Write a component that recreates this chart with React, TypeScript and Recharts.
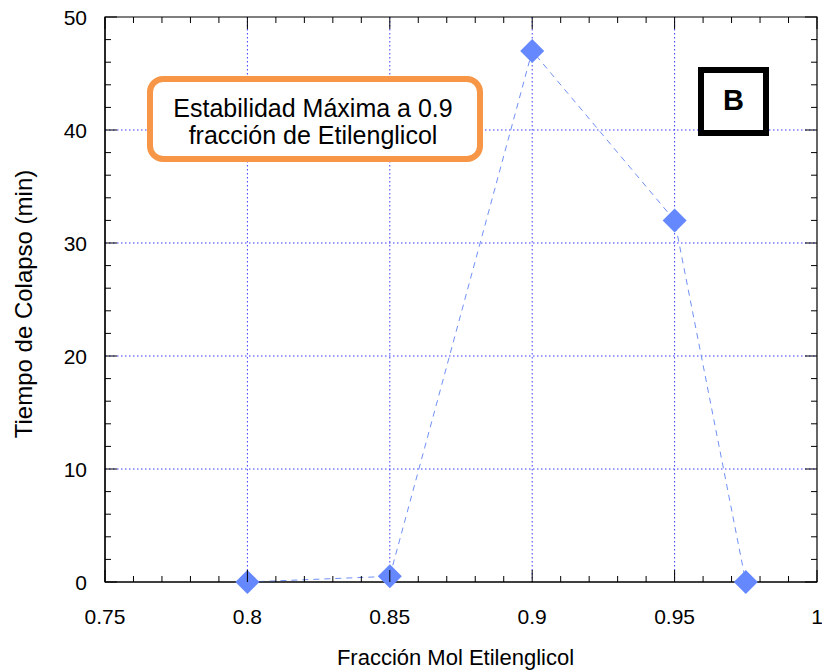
import React from 'react';
import { LineChart, Line, XAxis, YAxis, CartesianGrid, ReferenceArea } from 'recharts';

const fraccion = [0.8, 0.85, 0.9, 0.95, 0.975];
const tiempo = [0, 0.5, 47, 32, 0];

const xTicks = [0.75, 0.8, 0.85, 0.9, 0.95, 1];
const yTicks = [0, 10, 20, 30, 40, 50];
const xMinor = [0.75, 0.76, 0.77, 0.78, 0.79, 0.8, 0.81, 0.82, 0.83, 0.84, 0.85, 0.86, 0.87, 0.88, 0.89, 0.9, 0.91, 0.92, 0.93, 0.94, 0.95, 0.96, 0.97, 0.98, 0.99, 1];
const yMinor = [0, 2, 4, 6, 8, 10, 12, 14, 16, 18, 20, 22, 24, 26, 28, 30, 32, 34, 36, 38, 40, 42, 44, 46, 48, 50];
const gridX = [0.8, 0.85, 0.9, 0.95];
const gridY = [10, 20, 30, 40];

const xTitle = 'Fracción Mol Etilenglicol';
const yTitle = 'Tiempo de Colapso (min)';
const noteLines = ['Estabilidad Máxima a 0.9', 'fracción de Etilenglicol'];
const panelLabel = 'B';

const data = fraccion.map((x, i) => ({ x, y: tiempo[i] }));

const FONT = '"Liberation Sans", Arial, sans-serif';

// layout
const W = 822;
const H = 672;
const M = { top: 17, right: 5, left: 45, bottom: 60 };
const Y_W = 60;
const X_H = 30;
const PLOT_TOP = M.top;
const PLOT_BOTTOM = H - M.bottom - X_H;
const PLOT_LEFT = M.left + Y_W;
const PLOT_RIGHT = W - M.right;
const X_MARGIN = 27;
const Y_MARGIN = 18;

const isMajor = (list: number[], v: number) => list.some((t) => Math.abs(t - v) < 1e-9);

const XTick = (props: any) => {
  const { x, y, payload } = props;
  const v = payload.value;
  const major = isMajor(xTicks, v);
  const len = major ? 12 : 6;
  return (
    <g>
      <line x1={x} x2={x} y1={PLOT_BOTTOM} y2={PLOT_BOTTOM - len} stroke="#000" strokeWidth={1} />
      <line x1={x} x2={x} y1={PLOT_TOP} y2={PLOT_TOP + len} stroke="#000" strokeWidth={1} />
      {major && (
        <text x={x} y={y} dy={15} textAnchor="middle" fontSize={21} fontFamily={FONT} fill="#000">
          {String(v)}
        </text>
      )}
    </g>
  );
};

const YTick = (props: any) => {
  const { x, y, payload } = props;
  const v = payload.value;
  const major = isMajor(yTicks, v);
  const len = major ? 12 : 6;
  return (
    <g>
      <line x1={PLOT_LEFT} x2={PLOT_LEFT + len} y1={y} y2={y} stroke="#000" strokeWidth={1} />
      <line x1={PLOT_RIGHT} x2={PLOT_RIGHT - len} y1={y} y2={y} stroke="#000" strokeWidth={1} />
      {major && (
        <text x={x} y={y} dy={7.5} textAnchor="end" fontSize={21} fontFamily={FONT} fill="#000">
          {String(v)}
        </text>
      )}
    </g>
  );
};

const Diamond = (props: any) => {
  const { cx, cy } = props;
  if (cx == null || cy == null) return null;
  const r = 12;
  return (
    <polygon
      points={`${cx},${cy - r} ${cx + r},${cy} ${cx},${cy + r} ${cx - r},${cy}`}
      fill="#6688ff"
    />
  );
};

export default function App() {
  return (
    <div style={{ position: 'absolute', left: 0, top: 0, width: W, height: H, background: '#fff' }}>
      <LineChart width={W} height={H} data={data} margin={M}>
        <CartesianGrid
          horizontalValues={gridY}
          verticalValues={gridX}
          stroke="#3b3bff"
          strokeDasharray="1.5 2.5"
          strokeWidth={1}
        />
        <ReferenceArea x1={0.75} x2={1} y1={0} y2={50} fill="none" stroke="#000" strokeWidth={1.2} />
        <XAxis
          dataKey="x"
          type="number"
          domain={[0.75, 1]}
          ticks={xMinor}
          interval={0}
          tickLine={false}
          tickSize={0}
          tickMargin={X_MARGIN}
          axisLine={{ stroke: '#000', strokeWidth: 1.2 }}
          tick={<XTick />}
          height={X_H}
        />
        <YAxis
          type="number"
          domain={[0, 50]}
          ticks={yMinor}
          interval={0}
          tickLine={false}
          tickSize={0}
          tickMargin={Y_MARGIN}
          axisLine={{ stroke: '#000', strokeWidth: 1.2 }}
          tick={<YTick />}
          width={Y_W}
        />
        <Line
          dataKey="y"
          stroke="#7090f5"
          strokeWidth={1}
          strokeDasharray="6 5"
          dot={<Diamond />}
          activeDot={false}
          isAnimationActive={false}
        />
      </LineChart>
      <svg
        width={W}
        height={H}
        style={{ position: 'absolute', left: 0, top: 0, pointerEvents: 'none' }}
      >
        <rect x={150} y={79} width={330} height={80} rx={13} ry={13} fill="#fff" stroke="#f79646" strokeWidth={6} />
        <text x={313} y={117} textAnchor="middle" fontSize={25} fontFamily={FONT} fill="#000">{noteLines[0]}</text>
        <text x={313} y={144} textAnchor="middle" fontSize={25} fontFamily={FONT} fill="#000">{noteLines[1]}</text>
        <rect x={701} y={70} width={65} height={63} fill="#fff" stroke="#000" strokeWidth={6} />
        <text x={733.5} y={110} textAnchor="middle" fontSize={29} fontWeight="bold" fontFamily={FONT} fill="#000">{panelLabel}</text>
        <text x={455.5} y={665} textAnchor="middle" fontSize={22} fontFamily={FONT} fill="#000">{xTitle}</text>
        <text x={32} y={304} textAnchor="middle" fontSize={24} fontFamily={FONT} fill="#000" transform="rotate(-90, 32, 304)">{yTitle}</text>
      </svg>
    </div>
  );
}
